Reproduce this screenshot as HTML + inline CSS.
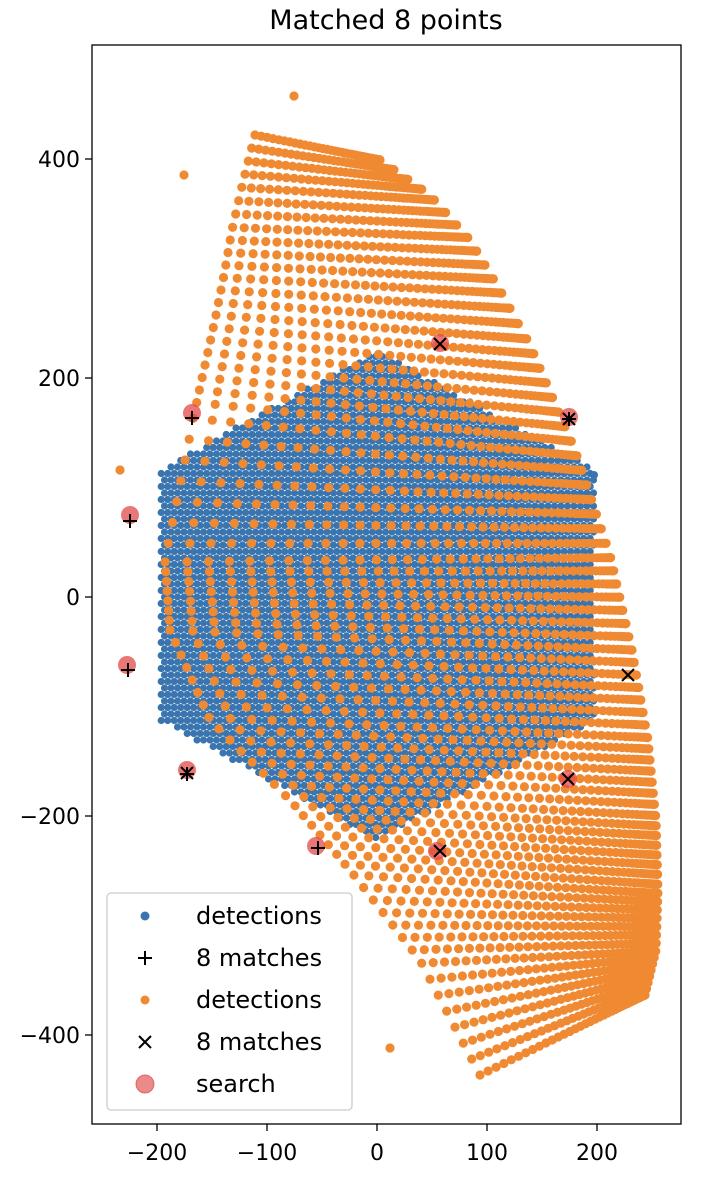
<!DOCTYPE html>
<html><head><meta charset="utf-8">
<style>
html,body{margin:0;padding:0;background:#fff;}
svg{display:block;font-family:"DejaVu Sans","Liberation Sans",sans-serif;}
</style></head>
<body>
<svg id="s" width="714" height="1190" viewBox="0 0 714 1190" xmlns="http://www.w3.org/2000/svg">
<rect width="714" height="1190" fill="#fff"/>
<text x="386" y="29" font-size="27" text-anchor="middle" fill="#000">Matched 8 points</text>
<defs><clipPath id="c"><rect x="92" y="45" width="589" height="1079"/></clipPath></defs>
<g id="blue" clip-path="url(#c)" fill="#3a75af"></g>
<g id="orange" clip-path="url(#c)" fill="#ef8a33"></g>
<g id="marks"></g>
<rect x="92" y="45" width="589" height="1079" fill="none" stroke="#000" stroke-width="1.3"/>
<g stroke="#000" stroke-width="1.3">
<line x1="157" y1="1124" x2="157" y2="1131"/><line x1="267" y1="1124" x2="267" y2="1131"/>
<line x1="377" y1="1124" x2="377" y2="1131"/><line x1="487" y1="1124" x2="487" y2="1131"/>
<line x1="597" y1="1124" x2="597" y2="1131"/>
<line x1="85" y1="159" x2="92" y2="159"/><line x1="85" y1="378" x2="92" y2="378"/>
<line x1="85" y1="597" x2="92" y2="597"/><line x1="85" y1="816" x2="92" y2="816"/>
<line x1="85" y1="1035" x2="92" y2="1035"/>
</g>
<g font-size="22" fill="#000" text-anchor="middle">
<text x="157" y="1160">−200</text><text x="267" y="1160">−100</text><text x="377" y="1160">0</text>
<text x="487" y="1160">100</text><text x="597" y="1160">200</text>
</g>
<g font-size="22" fill="#000" text-anchor="end">
<text x="80" y="167">400</text><text x="80" y="386">200</text><text x="80" y="605">0</text>
<text x="80" y="824">−200</text><text x="80" y="1043">−400</text>
</g>
<g id="legend">
<rect x="107" y="893" width="245" height="217" rx="4" fill="#fff" fill-opacity="0.85" stroke="#ccc" stroke-width="1.3"/>
<circle cx="145" cy="916" r="4.5" fill="#3a75af"/>
<path d="M138 958h14M145 951v14" stroke="#000" stroke-width="2"/>
<circle cx="145" cy="1000" r="4.5" fill="#ef8a33"/>
<path d="M139 1036l12 12M151 1036l-12 12" stroke="#000" stroke-width="2"/>
<circle cx="145" cy="1084" r="9" fill="#e24a4a" fill-opacity="0.65" stroke="#d03030" stroke-opacity="0.6"/>
<g font-size="24" fill="#000">
<text x="196" y="924">detections</text><text x="196" y="966">8 matches</text>
<text x="196" y="1008">detections</text><text x="196" y="1050">8 matches</text>
<text x="196" y="1092">search</text>
</g>
</g>
</svg>
<script>
var NS="http://www.w3.org/2000/svg";
function dot(g,x,y,r){var c=document.createElementNS(NS,"circle");c.setAttribute("cx",x.toFixed(1));c.setAttribute("cy",y.toFixed(1));c.setAttribute("r",r);g.appendChild(c);}
var B=document.getElementById("blue"),O=document.getElementById("orange"),M=document.getElementById("marks");
var hx=[160,377,595,595,377,160],hy=[470,350,470,720,840,720];
function inHex(x,y){var ins=false;for(var i=0,j=5;i<6;j=i++){if(((hy[i]>y)!=(hy[j]>y))&&(x<(hx[j]-hx[i])*(y-hy[i])/(hy[j]-hy[i])+hx[i]))ins=!ins;}return ins;}
for(var y=350;y<=842;y+=6.5){for(var x=158;x<=597;x+=6.5){var xx=x+((Math.round((y-350)/6.5)%2)?3.2:0);if(inHex(xx,y))dot(B,xx,y,3.6);}}
dot(B,594,475,4);
var T=[0,.05,.1,.15,.2,.3,.4,.5,.6,.7,.8,.9,1];
var L=[[255,135],[243,182],[232,230],[224,275],[215,320],[195,410],[165,560],[170,630],[210,720],[290,800],[350,870],[420,960],[480,1075]];
var R=[[380,160],[430,195],[470,240],[500,290],[530,345],[575,450],[610,555],[632,650],[648,740],[656,820],[658,890],[656,950],[645,995]];
function interp(P,t){for(var i=0;i<T.length-2&&t>T[i+1];i++);var u=(t-T[i])/(T[i+1]-T[i]);return [P[i][0]+(P[i+1][0]-P[i][0])*u,P[i][1]+(P[i+1][1]-P[i][1])*u];}
var rows=72,cols=40;
for(var r=0;r<=rows;r++){var t=r/rows;var a=interp(L,t),b=interp(R,t);
 for(var k=0;k<=cols;k++){var s=k/cols;var u=1-Math.pow(1-s,2);
  dot(O,a[0]+(b[0]-a[0])*u,a[1]+(b[1]-a[1])*u,4.6);}}
[[294,96],[184,175],[120,470],[390,1048]].forEach(function(p){dot(O,p[0],p[1],4.6);});
[[192,413],[130,515],[127,665],[187,770],[316,846],[437,851],[569,417],[568,779],[440,343]].forEach(function(p){var c=document.createElementNS(NS,"circle");c.setAttribute("cx",p[0]);c.setAttribute("cy",p[1]);c.setAttribute("r",9);c.setAttribute("fill","#e24a4a");c.setAttribute("fill-opacity","0.75");M.appendChild(c);});
function plus(x,y){var p=document.createElementNS(NS,"path");p.setAttribute("d","M"+(x-7)+" "+y+"h14M"+x+" "+(y-7)+"v14");p.setAttribute("stroke","#000");p.setAttribute("stroke-width","2");M.appendChild(p);}
function cross(x,y){var p=document.createElementNS(NS,"path");p.setAttribute("d","M"+(x-6)+" "+(y-6)+"l12 12M"+(x+6)+" "+(y-6)+"l-12 12");p.setAttribute("stroke","#000");p.setAttribute("stroke-width","2");M.appendChild(p);}
[[192,418],[130,521],[128,670],[187,774],[318,848],[569,419]].forEach(function(p){plus(p[0],p[1]);});
[[440,344],[628,675],[568,779],[440,851],[187,773],[569,419]].forEach(function(p){cross(p[0],p[1]);});
</script>
</body></html>
